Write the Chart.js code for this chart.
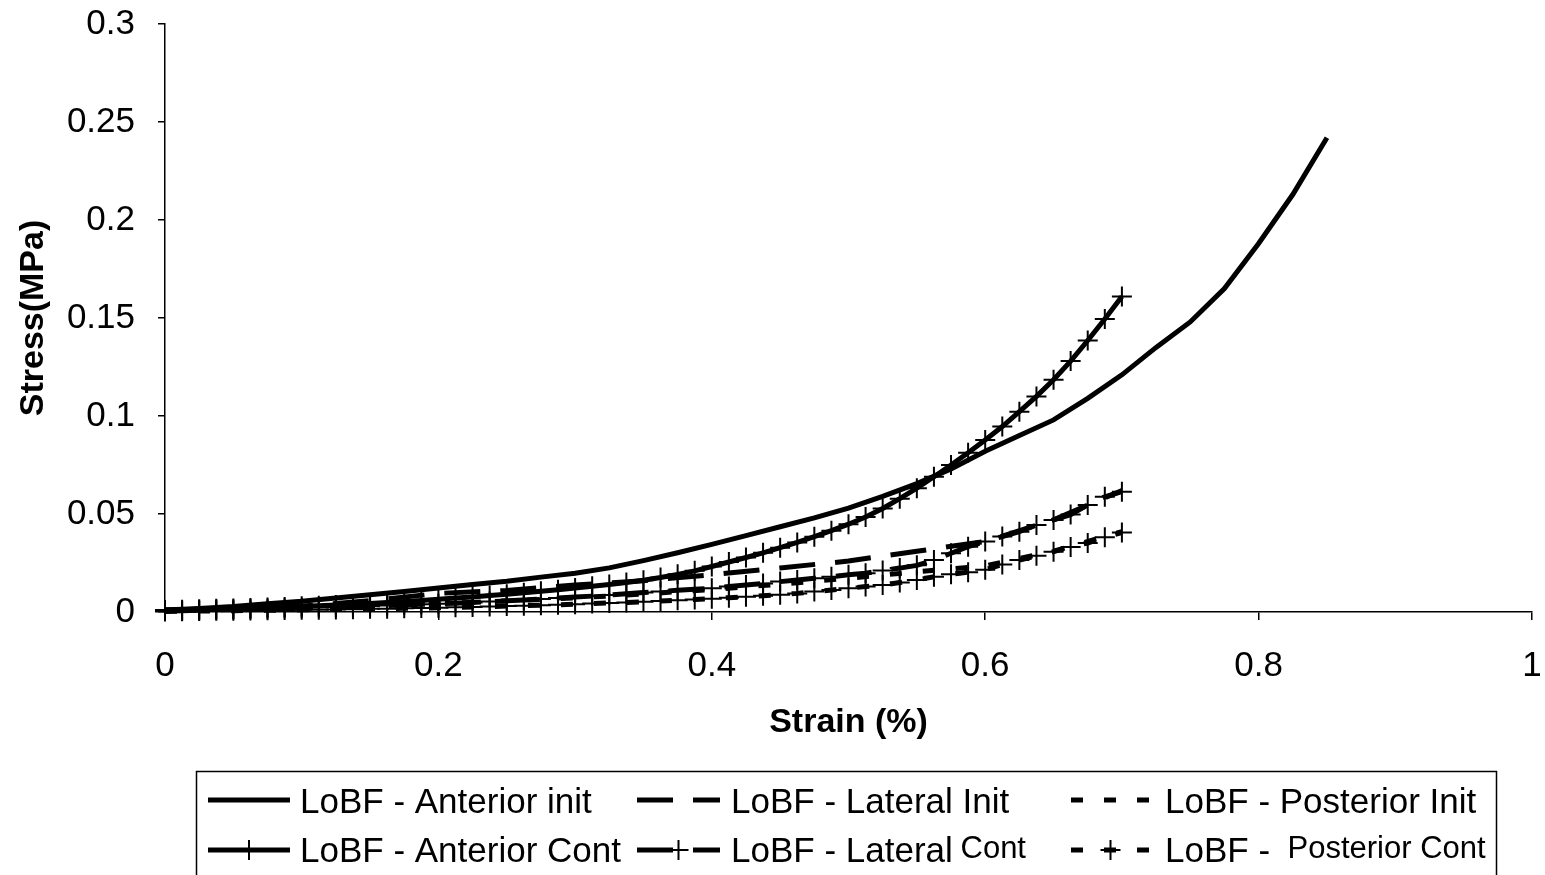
<!DOCTYPE html>
<html>
<head>
<meta charset="utf-8">
<script src="https://cdn.jsdelivr.net/npm/chart.js@4.4.1/dist/chart.umd.min.js"></script>
<style>
  html, body { margin: 0; padding: 0; background: #fff; }
  #wrap { width: 1545px; height: 875px; }
</style>
</head>
<body>
<div id="wrap"><canvas id="stressChart" width="1545" height="875"></canvas></div>
<script>
// strain values shared by the three "Cont" fits (one + marker each)
const strainCont = [0, 0.0125, 0.025, 0.0375, 0.05, 0.0625, 0.075, 0.0875, 0.1, 0.1125,
  0.125, 0.1375, 0.15, 0.1625, 0.175, 0.1875, 0.2, 0.2125, 0.225, 0.2375,
  0.25, 0.2625, 0.275, 0.2875, 0.3, 0.3125, 0.325, 0.3375, 0.35, 0.3625,
  0.375, 0.3875, 0.4, 0.4125, 0.425, 0.4375, 0.45, 0.4625, 0.475, 0.4875,
  0.5, 0.5125, 0.525, 0.5375, 0.55, 0.5625, 0.575, 0.5875, 0.6, 0.6125,
  0.625, 0.6375, 0.65, 0.6625, 0.675, 0.6875, 0.7];

const anteriorCont = [0.001, 0.0012, 0.0014, 0.0016, 0.0018, 0.002, 0.0023, 0.0026, 0.0029, 0.0032,
  0.0036, 0.004, 0.0044, 0.0049, 0.0054, 0.0059, 0.0065, 0.0071, 0.0077, 0.0084,
  0.0091, 0.0098, 0.0106, 0.0114, 0.0122, 0.0131, 0.014, 0.015, 0.0162, 0.0176,
  0.0192, 0.021, 0.0232, 0.0255, 0.0278, 0.0302, 0.0328, 0.0355, 0.0384, 0.0415,
  0.0448, 0.0485, 0.0528, 0.0578, 0.0632, 0.069, 0.075, 0.0812, 0.0878, 0.0946,
  0.1022, 0.11, 0.1185, 0.128, 0.1385, 0.1495, 0.161];

const lateralCont = [0.0005, 0.0007, 0.0009, 0.0011, 0.0013, 0.0015, 0.0017, 0.0019, 0.0021, 0.0023,
  0.0025, 0.0027, 0.003, 0.0033, 0.0036, 0.0039, 0.0042, 0.0045, 0.0049, 0.0053,
  0.0057, 0.0061, 0.0066, 0.0071, 0.0076, 0.0081, 0.0087, 0.0093, 0.0099, 0.0105,
  0.0111, 0.0116, 0.0121, 0.013, 0.0138, 0.0146, 0.0155, 0.0163, 0.0172, 0.018,
  0.019, 0.0198, 0.0212, 0.0224, 0.0238, 0.0265, 0.03, 0.0333, 0.036, 0.0385,
  0.041, 0.0444, 0.047, 0.0497, 0.0546, 0.0588, 0.0614];

const posteriorCont = [0.0003, 0.0004, 0.0005, 0.0006, 0.0007, 0.0008, 0.0009, 0.001, 0.0011, 0.0012,
  0.0013, 0.0014, 0.0016, 0.0017, 0.0019, 0.002, 0.0022, 0.0024, 0.0026, 0.0028,
  0.003, 0.0032, 0.0035, 0.0037, 0.004, 0.0043, 0.0046, 0.0049, 0.0052, 0.0056,
  0.006, 0.0064, 0.0068, 0.0073, 0.0078, 0.0083, 0.0088, 0.0095, 0.0104, 0.0112,
  0.0121, 0.013, 0.0138, 0.015, 0.0163, 0.018, 0.0192, 0.0203, 0.0216, 0.0242,
  0.0265, 0.0287, 0.0308, 0.0332, 0.0352, 0.0382, 0.0405];

// "Init" fits
const strainAntInit = [0, 0.025, 0.05, 0.075, 0.1, 0.125, 0.15, 0.175, 0.2, 0.225,
  0.25, 0.275, 0.3, 0.325, 0.35, 0.375, 0.4, 0.425, 0.45, 0.475,
  0.5, 0.525, 0.55, 0.575, 0.6, 0.625, 0.65, 0.675, 0.7, 0.725,
  0.75, 0.775, 0.8, 0.825, 0.85];
const anteriorInit = [0.001, 0.0018, 0.0028, 0.0042, 0.0055, 0.0072, 0.0088, 0.0105, 0.0122, 0.014,
  0.0157, 0.0178, 0.0198, 0.0225, 0.0262, 0.0302, 0.0345, 0.039, 0.0435, 0.048,
  0.053, 0.059, 0.0655, 0.073, 0.082, 0.09, 0.098, 0.109, 0.121, 0.135,
  0.148, 0.165, 0.188, 0.213, 0.242];

const strainInit = [0, 0.05, 0.1, 0.15, 0.2, 0.25, 0.3, 0.35, 0.4, 0.45, 0.5, 0.55, 0.6, 0.65, 0.7];
const lateralInit = [0.001, 0.0018, 0.003, 0.0058, 0.0095, 0.011, 0.0138, 0.016, 0.019, 0.0225, 0.026, 0.031, 0.036, 0.047, 0.062];
const posteriorInit = [0.0008, 0.0012, 0.002, 0.003, 0.0042, 0.0056, 0.0072, 0.0092, 0.0115, 0.0142, 0.0172, 0.0205, 0.0235, 0.031, 0.041];

const xTicks = [0, 0.2, 0.4, 0.6, 0.8, 1];
const yTicks = [0, 0.05, 0.1, 0.15, 0.2, 0.25, 0.3];

const labels = ['LoBF - Anterior init', 'LoBF - Lateral Init', 'LoBF - Posterior Init',
  'LoBF - Anterior Cont', 'LoBF - Lateral Cont', 'LoBF - Posterior Cont'];
// legend text: normal part + smaller raised part (as in the original)
const legendMain = ['LoBF - Anterior init', 'LoBF - Lateral Init', 'LoBF - Posterior Init',
  'LoBF - Anterior Cont', 'LoBF - Lateral', 'LoBF - '];
const legendSmall = ['', '', '', '', 'Cont', 'Posterior Cont'];

const FONT = "'Liberation Sans', Arial, sans-serif";
Chart.defaults.font.family = FONT;
Chart.defaults.color = '#000';

const pts = (xs, ys) => xs.map((x, i) => ({ x: x, y: ys[i] }));

function line(label, xs, ys, dash, markers) {
  return {
    label: label,
    data: pts(xs, ys),
    borderColor: '#000',
    backgroundColor: '#000',
    borderWidth: 5,
    borderDash: dash,
    tension: 0,
    fill: false,
    clip: false,
    pointStyle: 'cross',
    pointRadius: markers ? 10 : 0,
    pointHoverRadius: markers ? 10 : 0,
    pointBorderWidth: 2,
    pointBorderColor: '#000'
  };
}

const LONG = [36, 20];
const SHORT = [12, 21];

const legendBox = {
  id: 'legendBox',
  afterDraw(chart) {
    const ctx = chart.ctx;
    const sampleX = [208, 637, 1071];
    const sampleEnd = [290, 720, 1150];
    const textX = [300, 731, 1165];
    const lineY = [800, 850];
    const baseY = [813, 862];
    ctx.save();
    ctx.strokeStyle = '#000';
    ctx.fillStyle = '#000';
    ctx.lineWidth = 1.5;
    ctx.strokeRect(196.5, 771.5, 1300, 130);
    chart.data.datasets.forEach((ds, i) => {
      const c = i % 3, r = Math.floor(i / 3);
      const y = lineY[r];
      ctx.lineWidth = ds.borderWidth;
      ctx.setLineDash(ds.borderDash || []);
      ctx.beginPath();
      ctx.moveTo(sampleX[c], y);
      ctx.lineTo(sampleEnd[c], y);
      ctx.stroke();
      ctx.setLineDash([]);
      if (ds.pointRadius > 0) {
        const mx = (sampleX[c] + sampleEnd[c]) / 2;
        const rr = ds.pointRadius;
        ctx.lineWidth = ds.pointBorderWidth;
        ctx.beginPath();
        ctx.moveTo(mx - rr, y); ctx.lineTo(mx + rr, y);
        ctx.moveTo(mx, y - rr); ctx.lineTo(mx, y + rr);
        ctx.stroke();
      }
      ctx.textAlign = 'left';
      ctx.textBaseline = 'alphabetic';
      ctx.font = '35px ' + FONT;
      ctx.fillText(legendMain[i], textX[c], baseY[r]);
      if (legendSmall[i]) {
        const w = ctx.measureText(legendMain[i] + ' ').width;
        ctx.font = '31px ' + FONT;
        ctx.fillText(legendSmall[i], textX[c] + w - 2, baseY[r] - 4);
      }
    });
    ctx.restore();
  }
};

new Chart(document.getElementById('stressChart'), {
  type: 'line',
  data: {
    datasets: [
      line(labels[0], strainAntInit, anteriorInit, [], false),
      line(labels[1], strainInit, lateralInit, LONG, false),
      line(labels[2], strainInit, posteriorInit, SHORT, false),
      line(labels[3], strainCont, anteriorCont, [], true),
      line(labels[4], strainCont, lateralCont, LONG, true),
      line(labels[5], strainCont, posteriorCont, SHORT, true)
    ]
  },
  options: {
    responsive: false,
    animation: false,
    layout: { padding: { left: 0, right: 13, top: 24, bottom: 115 } },
    plugins: {
      legend: { display: false },
      tooltip: { enabled: false }
    },
    scales: {
      x: {
        type: 'linear',
        min: 0,
        max: 1,
        afterFit: s => {
          s.height = 148;
          s.paddingLeft = 0;
          s.paddingRight = 0;
        },
        afterBuildTicks: s => { s.ticks = xTicks.map(v => ({ value: v })); },
        ticks: {
          font: { size: 35 },
          padding: 25,
          maxRotation: 0,
          autoSkip: false,
          callback: v => String(Number(v.toFixed(2)))
        },
        grid: { drawOnChartArea: false, drawTicks: true, tickLength: 8, color: '#000', lineWidth: 1.5 },
        border: { display: true, color: '#000', width: 1.5 },
        title: {
          display: true,
          text: 'Strain (%)',
          font: { size: 34, weight: 'bold' },
          padding: { top: 0, bottom: 17 }
        }
      },
      y: {
        type: 'linear',
        min: 0,
        max: 0.3,
        afterFit: s => {
          s.width = 165;
          s.paddingTop = 0;
          s.paddingBottom = 0;
        },
        afterBuildTicks: s => { s.ticks = yTicks.map(v => ({ value: v })); },
        ticks: {
          font: { size: 35 },
          padding: 23,
          callback: v => String(Number(v.toFixed(2)))
        },
        grid: { drawOnChartArea: false, drawTicks: true, tickLength: 7, color: '#000', lineWidth: 1.5 },
        border: { display: true, color: '#000', width: 1.5 },
        title: {
          display: true,
          text: 'Stress(MPa)',
          font: { size: 34, weight: 'bold' },
          padding: { top: 13, bottom: 0 }
        }
      }
    }
  },
  plugins: [legendBox]
});
</script>
</body>
</html>
